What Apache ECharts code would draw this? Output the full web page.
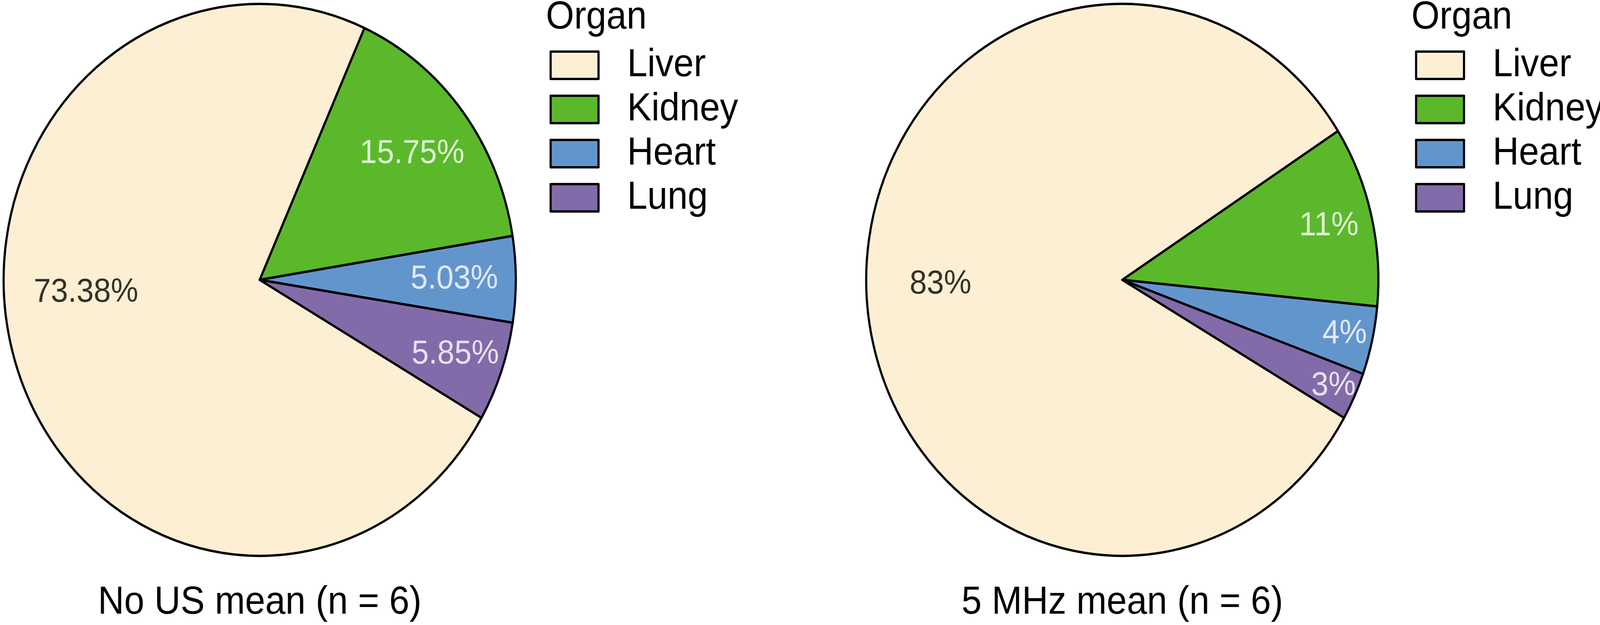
<!DOCTYPE html>
<html>
<head>
<meta charset="utf-8">
<script src="https://cdn.jsdelivr.net/npm/echarts@6/dist/echarts.min.js"></script>
<style>
html,body{margin:0;padding:0;background:#fff;overflow:hidden;}
#c{width:4411px;height:1599px;transform-origin:0 0;}
</style>
</head>
<body>
<div id="c"></div>
<script>
// ---- data ----
const categories = ['Liver', 'Kidney', 'Heart', 'Lung'];
const noUSMean = [73.38, 15.75, 5.03, 5.85];
const mhz5Mean = [82.6, 10.6, 4.0, 2.8];
const panelTitles = ['No US mean (n = 6)', '5 MHz mean (n = 6)'];
const legendTitle = 'Organ';

// ---- style ----
const colors = ['#FCEFD3', '#5BB82B', '#6395CD', '#836BAA'];
const labelColors = ['#000', '#fff', '#fff', '#fff'];
const FONT = 'Liberation Sans, Arial, Helvetica, sans-serif';
const R = 706;
const centers = [[716, 716], [3094, 716]];
const startAngles = [330, 330];
const labelRadius = [[0.68, 0.75, 0.76, 0.81], [0.71, 0.83, 0.89, 0.91]];
const labelAngleShift = [[3.9, 0, 0, 0], [0, 0, 0, 0]];
const legendLeft = [1510, 3896];
const formatters = [v => v.toFixed(2) + '%', v => Math.round(v) + '%'];

// fit the 4411x1599 design into the actual window
const el = document.getElementById('c');
const sx = window.innerWidth / 4411, sy = window.innerHeight / 1599;
el.style.transform = 'scale(' + sx + ',' + sy + ')';

const panels = [noUSMean, mhz5Mean];
const series = [];
const polar = [], angleAxis = [], radiusAxis = [], legend = [], title = [];

panels.forEach((vals, p) => {
  const sum = vals.reduce((a, b) => a + b, 0);
  series.push({
    type: 'pie',
    center: centers[p],
    radius: R,
    startAngle: startAngles[p],
    clockwise: true,
    avoidLabelOverlap: false,
    label: { show: false },
    labelLine: { show: false },
    emphasis: { disabled: true },
    itemStyle: { borderColor: '#000', borderWidth: 6, borderJoin: 'round' },
    data: categories.map((c, i) => ({ name: c, value: vals[i], itemStyle: { color: colors[i] } }))
  });
  polar.push({ center: centers[p], radius: R });
  angleAxis.push({ polarIndex: p, type: 'value', min: 0, max: sum, startAngle: startAngles[p], clockwise: true, show: false });
  radiusAxis.push({ polarIndex: p, type: 'value', min: 0, max: 1, show: false });
  let cum = 0;
  const pts = vals.map((v, i) => {
    const mid = cum + v / 2 + labelAngleShift[p][i];
    cum += v;
    return { value: [labelRadius[p][i], mid, v], label: { color: labelColors[i] } };
  });
  series.push({
    type: 'scatter',
    name: 'labels' + p,
    coordinateSystem: 'polar',
    polarIndex: p,
    symbolSize: 1,
    itemStyle: { color: 'rgba(0,0,0,0)' },
    silent: true,
    z: 10,
    label: {
      show: true,
      position: 'inside',
      fontFamily: FONT,
      fontSize: 85,
      formatter: (prm) => formatters[p](prm.value[2])
    },
    data: pts
  });
  legend.push({
    orient: 'vertical',
    left: legendLeft[p],
    top: 112,
    data: categories,
    itemWidth: 132,
    itemHeight: 70,
    itemGap: 13,
    icon: 'rect',
    selectedMode: false,
    itemStyle: { borderColor: '#000', borderWidth: 6 },
    textStyle: { fontFamily: FONT, fontSize: 100, lineHeight: 100, color: '#000', padding: [0, 0, 0, 74] }
  });
  title.push({
    text: legendTitle,
    left: legendLeft[p] - 5,
    top: -5,
    padding: 0,
    textStyle: { fontFamily: FONT, fontSize: 100, fontWeight: 'normal', color: '#000' }
  });
  title.push({
    text: panelTitles[p],
    left: centers[p][0],
    textAlign: 'center',
    top: 1492,
    padding: 0,
    textStyle: { fontFamily: FONT, fontSize: 100, fontWeight: 'normal', color: '#000' }
  });
});

const chart = echarts.init(el);
chart.setOption({
  animation: false,
  backgroundColor: '#fff',
  title, legend, polar, angleAxis, radiusAxis, series
});
</script>
</body>
</html>
